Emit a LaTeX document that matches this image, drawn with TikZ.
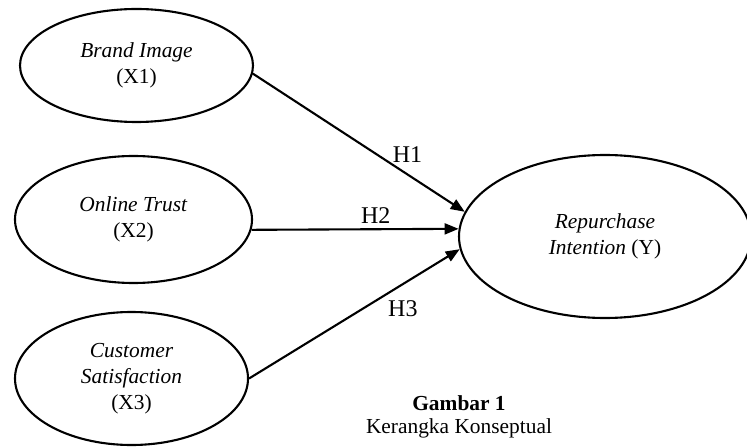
\documentclass[tikz,border=0pt]{standalone}
\usepackage{fontspec}
\setmainfont{Liberation Serif}
\usetikzlibrary{shapes.geometric, arrows.meta}
\tikzset{
>={Triangle[length=7pt,width=5.5pt]}, % filled arrow heads
x=0.5pt, y=-0.5pt, % one unit is one pixel of the sketch, y downwards
every node/.style={font=\fontsize{10.7}{13}\selectfont},
latent/.style={draw, ellipse, line width=1.05pt, inner sep=0pt, align=center}, % the latent variables
hypo/.style={->, line width=1.05pt}, % the hypothesised paths
hlabel/.style={font=\fontsize{12}{14}\selectfont}, % H1, H2, H3
}

\begin{document}
\begin{tikzpicture}
        \useasboundingbox (0,0) rectangle (747,448);

        \node[latent, minimum width=116.5pt, minimum height=56.5pt] (x1) at (136.5,65.5) {\textit{Brand Image}\\(X1)};
        \node[latent, minimum width=118.5pt, minimum height=63.5pt] (x2) at (133.5,219.5) {\textit{Online Trust}\\(X2)};
        \node[latent, minimum width=116.5pt, minimum height=66.5pt] (x3) at (131.5,378.5) {\textit{Customer}\\\textit{Satisfaction}\\(X3)};
        \node[latent, minimum width=146pt, minimum height=81.5pt] (y) at (605,236.5) {\textit{Repurchase}\\\textit{Intention} (Y)};

        \draw[hypo] (x1.-4) -- node[hlabel, pos=.73, above=2pt] {H1} (y.170);
        \draw[hypo] (x2.-5) -- node[hlabel, pos=.6, above=-1pt] {H2} (y.177);
        \draw[hypo] (x3.east) -- node[hlabel, pos=.73, below=4.5pt] {H3} (y.-175);

        \node[align=center, font=\fontsize{10.7}{11.5}\selectfont] (caption) at (459,417) {\textbf{Gambar 1}\\Kerangka Konseptual};
      \end{tikzpicture}
\end{document}
